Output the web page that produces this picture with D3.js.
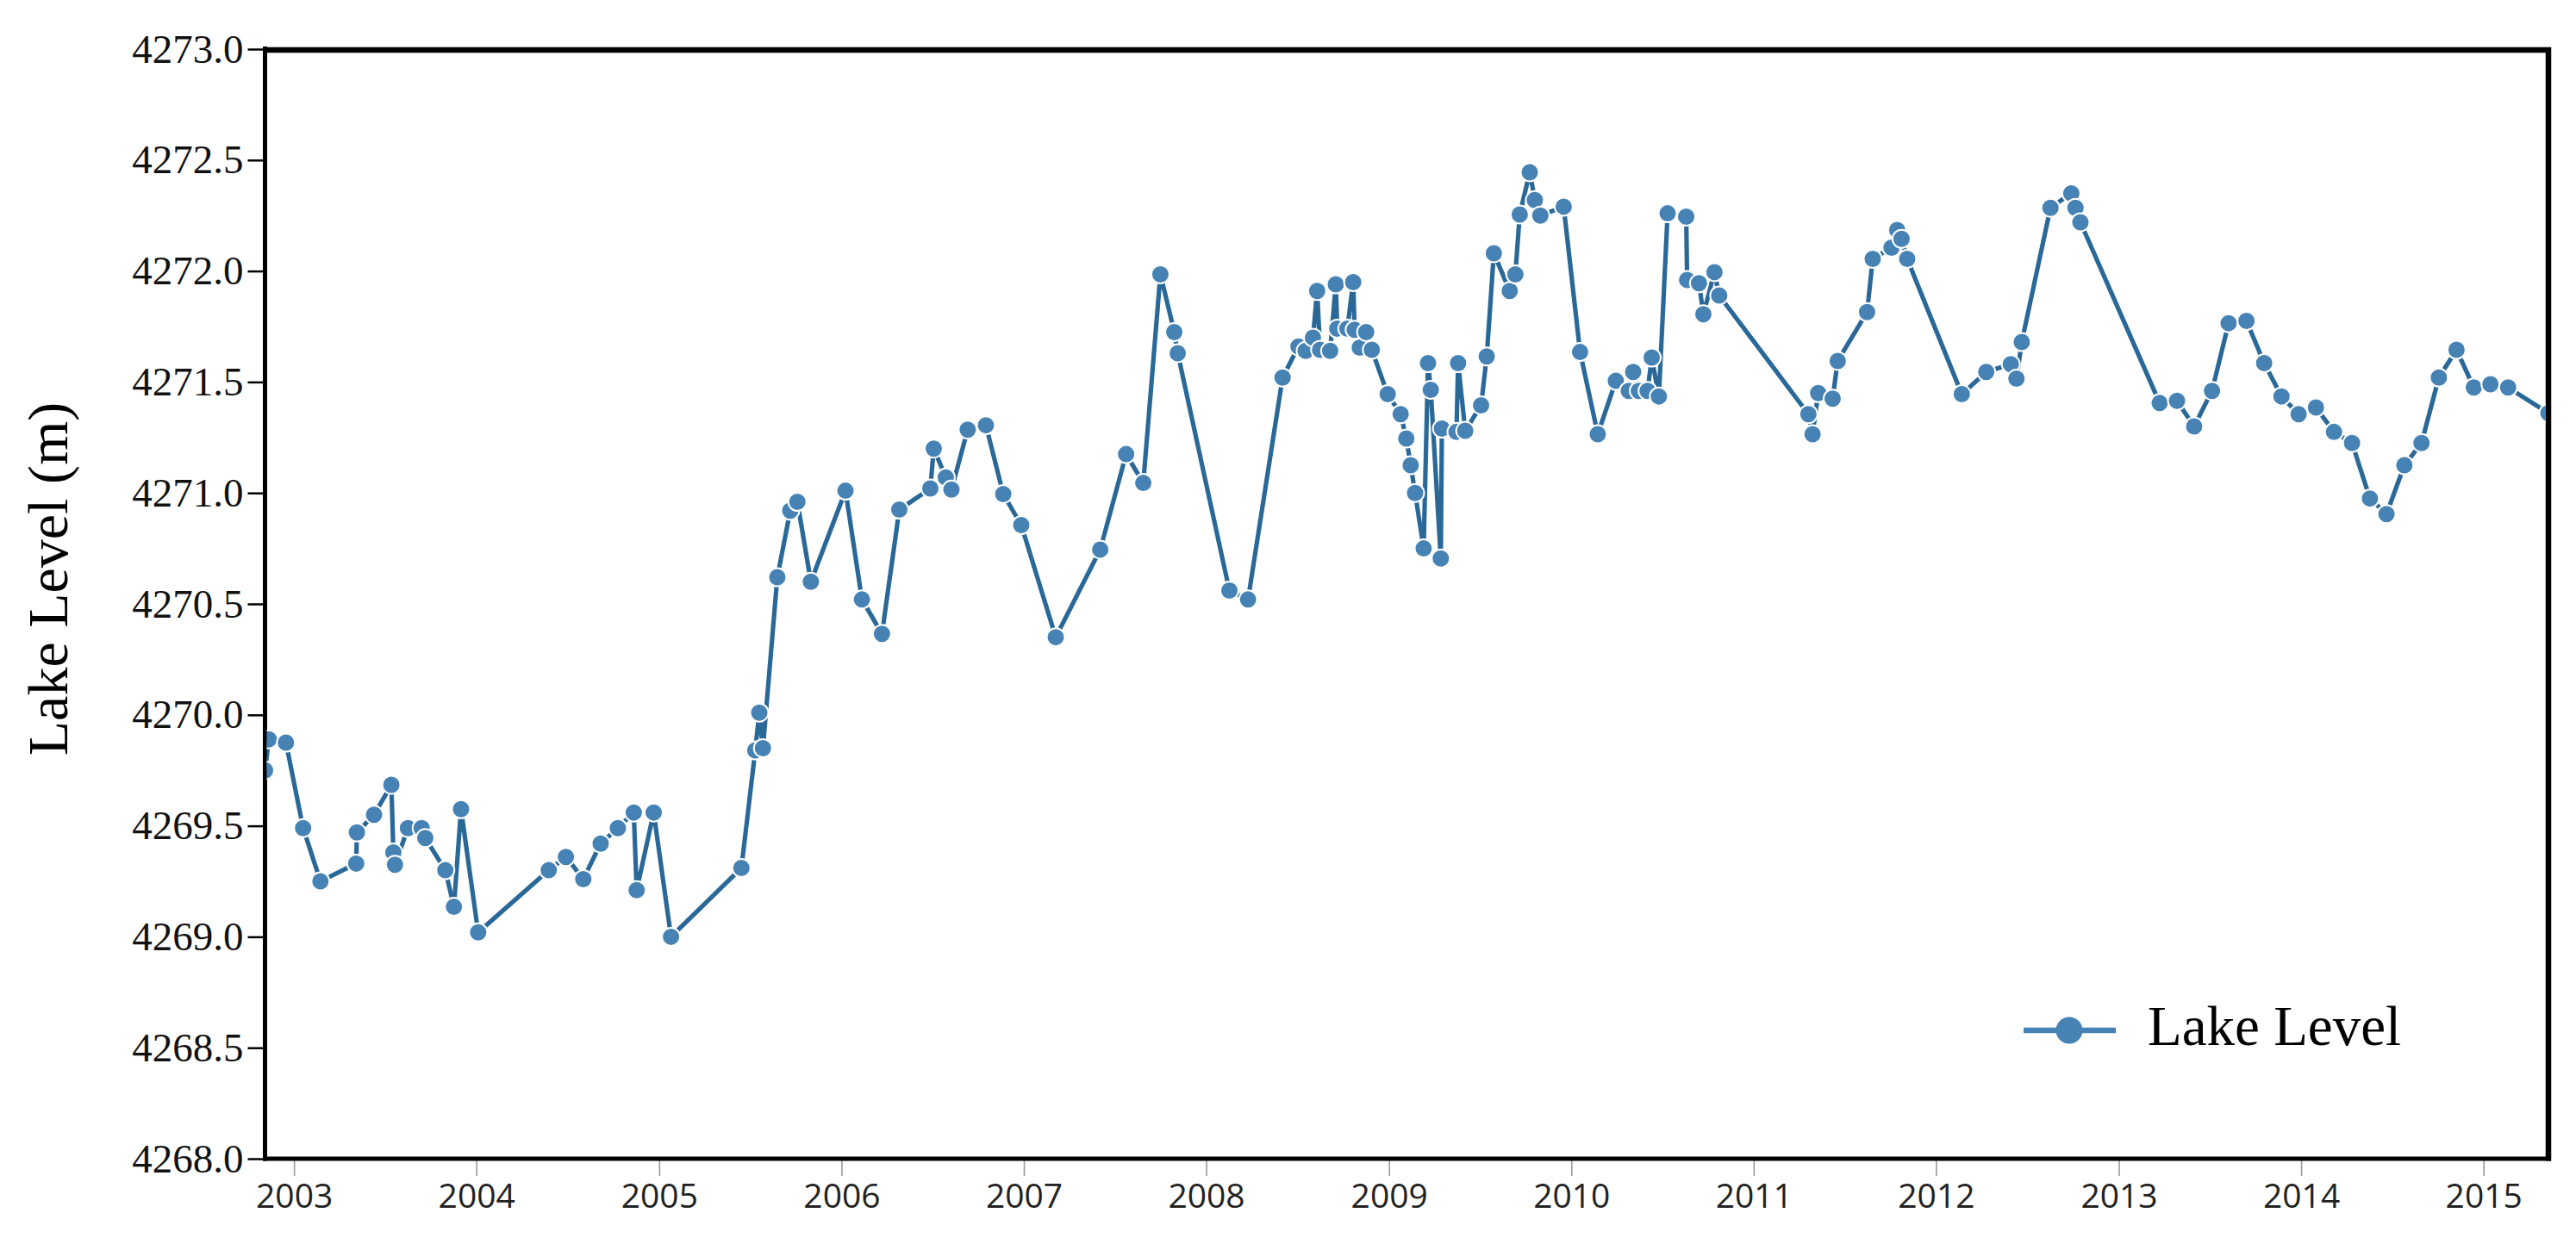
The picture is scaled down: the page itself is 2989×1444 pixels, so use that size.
<!DOCTYPE html>
<html>
<head>
<meta charset="utf-8">
<script src="https://cdn.jsdelivr.net/npm/d3@7"></script>
<style>
  html, body { margin: 0; padding: 0; background: #ffffff; }
  svg { display: block; }
</style>
</head>
<body>
<svg id="chart" width="2989" height="1444"></svg>
<script>
// ---- data (decimal year of each observation, lake level in m) ----
const dates = [
  2002.841, 2002.862, 2002.956, 2003.050, 2003.145, 2003.341, 2003.345, 2003.439, 2003.534, 2003.545,
  2003.554, 2003.625, 2003.700, 2003.720, 2003.830, 2003.877, 2003.916, 2004.010, 2004.396, 2004.490,
  2004.585, 2004.680, 2004.774, 2004.861, 2004.877, 2004.970, 2005.065, 2005.451, 2005.527, 2005.549,
  2005.569, 2005.648, 2005.719, 2005.758, 2005.832, 2006.022, 2006.112, 2006.222, 2006.317, 2006.487,
  2006.506, 2006.572, 2006.603, 2006.692, 2006.792, 2006.887, 2006.986, 2007.175, 2007.419, 2007.561,
  2007.655, 2007.749, 2007.825, 2007.844, 2008.127, 2008.229, 2008.418, 2008.505, 2008.544, 2008.584,
  2008.607, 2008.623, 2008.678, 2008.709, 2008.717, 2008.772, 2008.804, 2008.812, 2008.840, 2008.875,
  2008.906, 2008.993, 2009.064, 2009.095, 2009.119, 2009.143, 2009.190, 2009.214, 2009.229, 2009.284,
  2009.290, 2009.370, 2009.379, 2009.418, 2009.505, 2009.536, 2009.575, 2009.662, 2009.693, 2009.717,
  2009.772, 2009.800, 2009.830, 2009.958, 2010.048, 2010.145, 2010.244, 2010.315, 2010.339, 2010.370,
  2010.418, 2010.441, 2010.480, 2010.528, 2010.630, 2010.635, 2010.700, 2010.724, 2010.785, 2010.811,
  2011.300, 2011.323, 2011.354, 2011.433, 2011.461, 2011.622, 2011.653, 2011.756, 2011.787, 2011.811,
  2011.842, 2012.141, 2012.275, 2012.409, 2012.440, 2012.469, 2012.626, 2012.740, 2012.763, 2012.790,
  2013.224, 2013.319, 2013.413, 2013.511, 2013.602, 2013.700, 2013.797, 2013.892, 2013.986, 2014.081,
  2014.180, 2014.279, 2014.377, 2014.468, 2014.566, 2014.660, 2014.755, 2014.852, 2014.947, 2015.038,
  2015.135, 2015.356
];
const levels = [
  4269.75, 4269.89, 4269.875, 4269.49, 4269.25, 4269.33, 4269.47, 4269.55, 4269.685, 4269.38,
  4269.325, 4269.49, 4269.49, 4269.445, 4269.30, 4269.135, 4269.575, 4269.02, 4269.30, 4269.36,
  4269.26, 4269.42, 4269.49, 4269.56, 4269.21, 4269.56, 4269.00, 4269.31, 4269.84, 4270.01,
  4269.85, 4270.62, 4270.92, 4270.96, 4270.60, 4271.01, 4270.52, 4270.365, 4270.925, 4271.02,
  4271.20, 4271.07, 4271.015, 4271.285, 4271.305, 4270.995, 4270.855, 4270.35, 4270.745, 4271.175,
  4271.045, 4271.985, 4271.725, 4271.63, 4270.56, 4270.52, 4271.52, 4271.66, 4271.64, 4271.70,
  4271.91, 4271.645, 4271.64, 4271.94, 4271.74, 4271.74, 4271.95, 4271.735, 4271.655, 4271.725,
  4271.645, 4271.445, 4271.355, 4271.245, 4271.125, 4271.00, 4270.75, 4271.585, 4271.465, 4270.705,
  4271.29, 4271.275, 4271.585, 4271.28, 4271.395, 4271.615, 4272.08, 4271.91, 4271.985, 4272.255,
  4272.445, 4272.32, 4272.25, 4272.29, 4271.635, 4271.265, 4271.505, 4271.46, 4271.545, 4271.46,
  4271.46, 4271.61, 4271.435, 4272.26, 4272.245, 4271.96, 4271.945, 4271.805, 4271.995, 4271.89,
  4271.355, 4271.265, 4271.45, 4271.425, 4271.595, 4271.815, 4272.055, 4272.105, 4272.185, 4272.145,
  4272.055, 4271.445, 4271.545, 4271.58, 4271.515, 4271.68, 4272.285, 4272.35, 4272.285, 4272.22,
  4271.405, 4271.415, 4271.30, 4271.46, 4271.765, 4271.775, 4271.585, 4271.435, 4271.355, 4271.385,
  4271.275, 4271.225, 4270.975, 4270.905, 4271.125, 4271.225, 4271.52, 4271.645, 4271.475, 4271.49,
  4271.475, 4271.36
];
const yTicks = [4268.0, 4268.5, 4269.0, 4269.5, 4270.0, 4270.5, 4271.0, 4271.5, 4272.0, 4272.5, 4273.0];
const xTickYears = [2003, 2004, 2005, 2006, 2007, 2008, 2009, 2010, 2011, 2012, 2013, 2014, 2015];
const seriesName = "Lake Level";
const yTitle = "Lake Level (m)";

// ---- helpers ----
function decToDate(d) {
  const y = Math.floor(d);
  const s = Date.UTC(y, 0, 1), e = Date.UTC(y + 1, 0, 1);
  return new Date(s + (d - y) * (e - s));
}
const data = dates.map((d, i) => ({ date: decToDate(d), value: levels[i] }));

// ---- layout ----
const L = 307.5, R = 2957, T = 57, B = 1345;
const svg = d3.select("#chart");
svg.append("rect").attr("width", 2989).attr("height", 1444).attr("fill", "#fff");

const x = d3.scaleUtc()
  .domain([decToDate(dates[0]), decToDate(dates[dates.length - 1])])
  .range([L, R]);
const y = d3.scaleLinear().domain([4268, 4273]).range([B, T]);

// x axis
const xAxis = d3.axisBottom(x)
  .tickValues(xTickYears.map(yr => new Date(Date.UTC(yr, 0, 1))))
  .tickFormat(d3.utcFormat("%Y"))
  .tickSize(19).tickSizeOuter(0).tickPadding(9);
const gx = svg.append("g").attr("transform", `translate(0,${B + 1})`).call(xAxis);
gx.select(".domain").remove();
gx.selectAll(".tick line").attr("stroke", "#9a9a9a").attr("stroke-width", 1.6);
gx.selectAll(".tick text")
  .attr("fill", "#222")
  .style("font-family", "'Open Sans', sans-serif")
  .style("font-size", "39px");

// y axis
const yAxis = d3.axisLeft(y)
  .tickValues(yTicks)
  .tickFormat(d3.format(".1f"))
  .tickSize(19).tickSizeOuter(0).tickPadding(5);
const gy = svg.append("g").attr("transform", `translate(${L - 1},0)`).call(yAxis);
gy.select(".domain").remove();
gy.selectAll(".tick line").attr("stroke", "#000").attr("stroke-width", 2.5);
gy.selectAll(".tick text")
  .attr("fill", "#111")
  .style("font-family", "'Liberation Serif', 'Times New Roman', serif")
  .style("font-size", "47px");

// frame
const frame = svg.append("g").attr("stroke", "#000").attr("fill", "none");
frame.append("line").attr("x1", L).attr("x2", L).attr("y1", T - 3).attr("y2", B + 2.5).attr("stroke-width", 5);
frame.append("line").attr("x1", L - 2.5).attr("x2", R + 3).attr("y1", B).attr("y2", B).attr("stroke-width", 5);
frame.append("line").attr("x1", L - 2.5).attr("x2", R + 3).attr("y1", T + 1).attr("y2", T + 1).attr("stroke-width", 6.5);
frame.append("line").attr("x1", R).attr("x2", R).attr("y1", T - 2).attr("y2", B + 2.5).attr("stroke-width", 6.5);

// y title
svg.append("text")
  .attr("transform", `translate(78,672) rotate(-90)`)
  .attr("text-anchor", "middle")
  .attr("fill", "#000")
  .style("font-family", "'Liberation Serif', 'Times New Roman', serif")
  .style("font-size", "66px")
  .text(yTitle);

// series
svg.append("clipPath").attr("id", "plotclip")
  .append("rect").attr("x", L + 2).attr("y", T + 3).attr("width", R - L - 5).attr("height", B - T - 5);
const plot = svg.append("g").attr("clip-path", "url(#plotclip)");
const line = d3.line().x(d => x(d.date)).y(d => y(d.value));
plot.append("path").datum(data)
  .attr("d", line)
  .attr("fill", "none")
  .attr("stroke", "#2a6898")
  .attr("stroke-width", 5.2)
  .attr("stroke-linejoin", "round");
plot.selectAll("circle").data(data).enter().append("circle")
  .attr("cx", d => x(d.date))
  .attr("cy", d => y(d.value))
  .attr("r", 10.5)
  .attr("fill", "#4682b4")
  .attr("stroke", "#fff")
  .attr("stroke-width", 2);

// legend
const lg = svg.append("g");
lg.append("line").attr("x1", 2348).attr("x2", 2455).attr("y1", 1196).attr("y2", 1196)
  .attr("stroke", "#4682b4").attr("stroke-width", 6.5);
lg.append("circle").attr("cx", 2401).attr("cy", 1196).attr("r", 15.5).attr("fill", "#4682b4");
lg.append("text").attr("x", 2492).attr("y", 1213)
  .attr("fill", "#000")
  .style("font-family", "'Liberation Serif', 'Times New Roman', serif")
  .style("font-size", "65px")
  .text(seriesName);
</script>
</body>
</html>
